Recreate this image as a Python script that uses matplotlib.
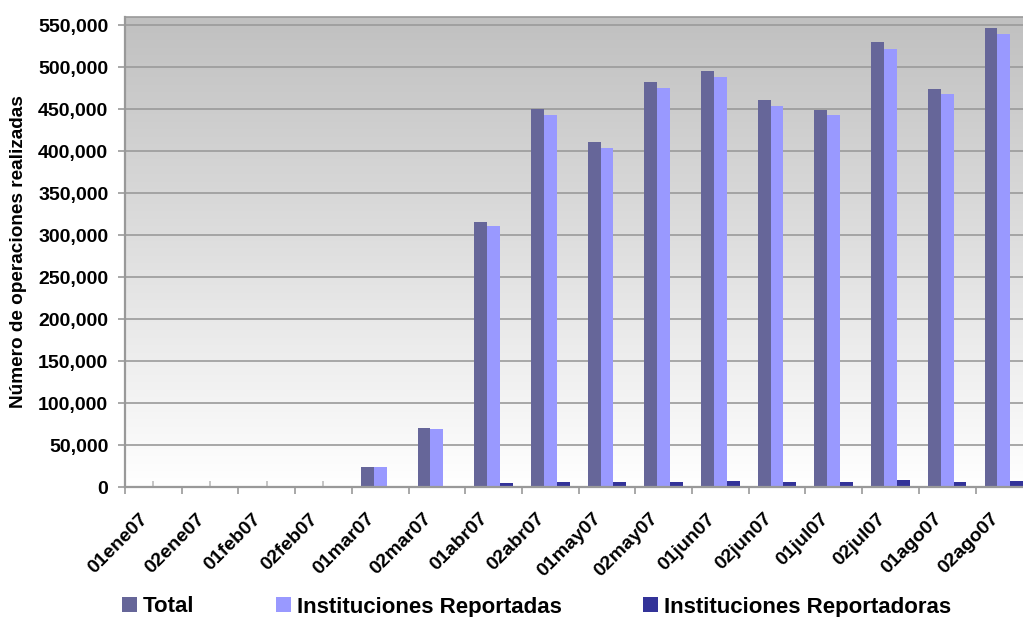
import numpy as np
import matplotlib
matplotlib.use("Agg")
import matplotlib.pyplot as plt
import matplotlib.transforms as mtransforms
from matplotlib.ticker import FuncFormatter, MultipleLocator, FixedLocator

plt.rcParams['font.family'] = ['Liberation Sans', 'DejaVu Sans']
plt.rcParams['font.weight'] = 'bold'

periods = ["01ene07", "02ene07", "01feb07", "02feb07", "01mar07", "02mar07",
           "01abr07", "02abr07", "01may07", "02may07", "01jun07", "02jun07",
           "01jul07", "02jul07", "01ago07", "02ago07"]
total = [200, 200, 200, 200, 23800, 70200, 315500, 450000, 410700, 482100,
         495200, 460700, 448800, 529800, 473800, 546400]
reportadas = [150, 150, 150, 150, 23300, 69000, 310700, 443000, 404000, 475500,
              488000, 454000, 443000, 521500, 468000, 539500]
reportadoras = [100, 100, 100, 100, 500, 1000, 4900, 6100, 6100, 6100,
                7400, 6100, 6100, 8600, 6100, 7400]
series_names = ["Total", "Instituciones Reportadas", "Instituciones Reportadoras"]
series_colors = ["#666699", "#9999FF", "#333399"]

W, H = 1023, 617
fig = plt.figure(figsize=(W / 100, H / 100), dpi=100)
fig.patch.set_facecolor("white")

# plot area (the last group runs slightly past the right edge)
x0, x1 = 125, 125 + 16 * 56.7
y_top, y_zero = 17, 487
ax = fig.add_axes([x0 / W, 1 - y_zero / H, (x1 - x0) / W, (y_zero - y_top) / H])

n = len(periods)
x = np.arange(n) + 0.5
ymax = 560000
ax.set_xlim(0, n)
ax.set_ylim(0, ymax)

# grey-to-white vertical gradient behind the bars
grad = np.linspace(0, 1, 256).reshape(-1, 1)
top_c = np.array([192, 192, 192]) / 255
bot_c = np.array([255, 255, 255]) / 255
img = top_c[None, None, :] * (1 - grad[:, :, None]) + bot_c[None, None, :] * grad[:, :, None]
ax.imshow(img, extent=[0, n, 0, ymax], aspect="auto", origin="upper", zorder=0)

bw = 0.227
for i, (vals, name, col) in enumerate(zip([total, reportadas, reportadoras], series_names, series_colors)):
    ax.bar(x + (i - 1) * bw, vals, width=bw, color=col, label=name, zorder=3, linewidth=0)

ax.yaxis.set_major_locator(MultipleLocator(50000))
ax.yaxis.set_major_formatter(FuncFormatter(lambda v, p: f"{int(v):,}"))
ax.grid(axis="y", color="#9a9a9a", linewidth=1.2, zorder=1)
ax.set_axisbelow(False)

ax.xaxis.set_major_locator(FixedLocator(np.arange(n + 1)))
ax.xaxis.set_minor_locator(FixedLocator(x))
ax.set_xticks(x, minor=True)
ax.set_xticklabels([], minor=False)
ax.set_xticklabels(periods, minor=True, rotation=45, ha="right", va="center",
                   rotation_mode="anchor", fontsize=14, fontweight="bold")
ax.tick_params(axis="x", which="major", direction="out", length=5, width=1.2, color="#999999")
ax.tick_params(axis="x", which="minor", direction="in", length=4, width=1.2, color="#bbbbbb", pad=21)
shift = mtransforms.ScaledTranslation(-8 / 100, 0, fig.dpi_scale_trans)
for lbl in ax.xaxis.get_minorticklabels():
    lbl.set_transform(lbl.get_transform() + shift)
ax.tick_params(axis="y", direction="out", length=5, width=1.2, color="#999999", pad=7,
               labelsize=14)
for lbl in ax.get_yticklabels():
    lbl.set_fontweight("bold")

for side in ["left", "bottom"]:
    ax.spines[side].set_color("#999999")
    ax.spines[side].set_linewidth(1.6)
ax.spines["top"].set_color("#999999")
ax.spines["top"].set_linewidth(1.2)
ax.spines["right"].set_visible(False)
for s in ax.spines.values():
    s.set_zorder(4)

ax.set_ylabel("Número de operaciones realizadas", fontsize=13.7, fontweight="bold")
ax.yaxis.set_label_coords(-(125 - 27) / (x1 - x0), 0.5)

handles, labels = ax.get_legend_handles_labels()
fig.legend(handles, labels, loc="center left", bbox_to_anchor=(122 / W, 1 - 607 / H),
           ncol=3, frameon=False, prop={"size": 16, "weight": "bold"},
           handlelength=0.68, handleheight=0.62, handletextpad=0.27,
           columnspacing=3.65, borderpad=0, borderaxespad=0)

fig.savefig("out.png", dpi=100)
